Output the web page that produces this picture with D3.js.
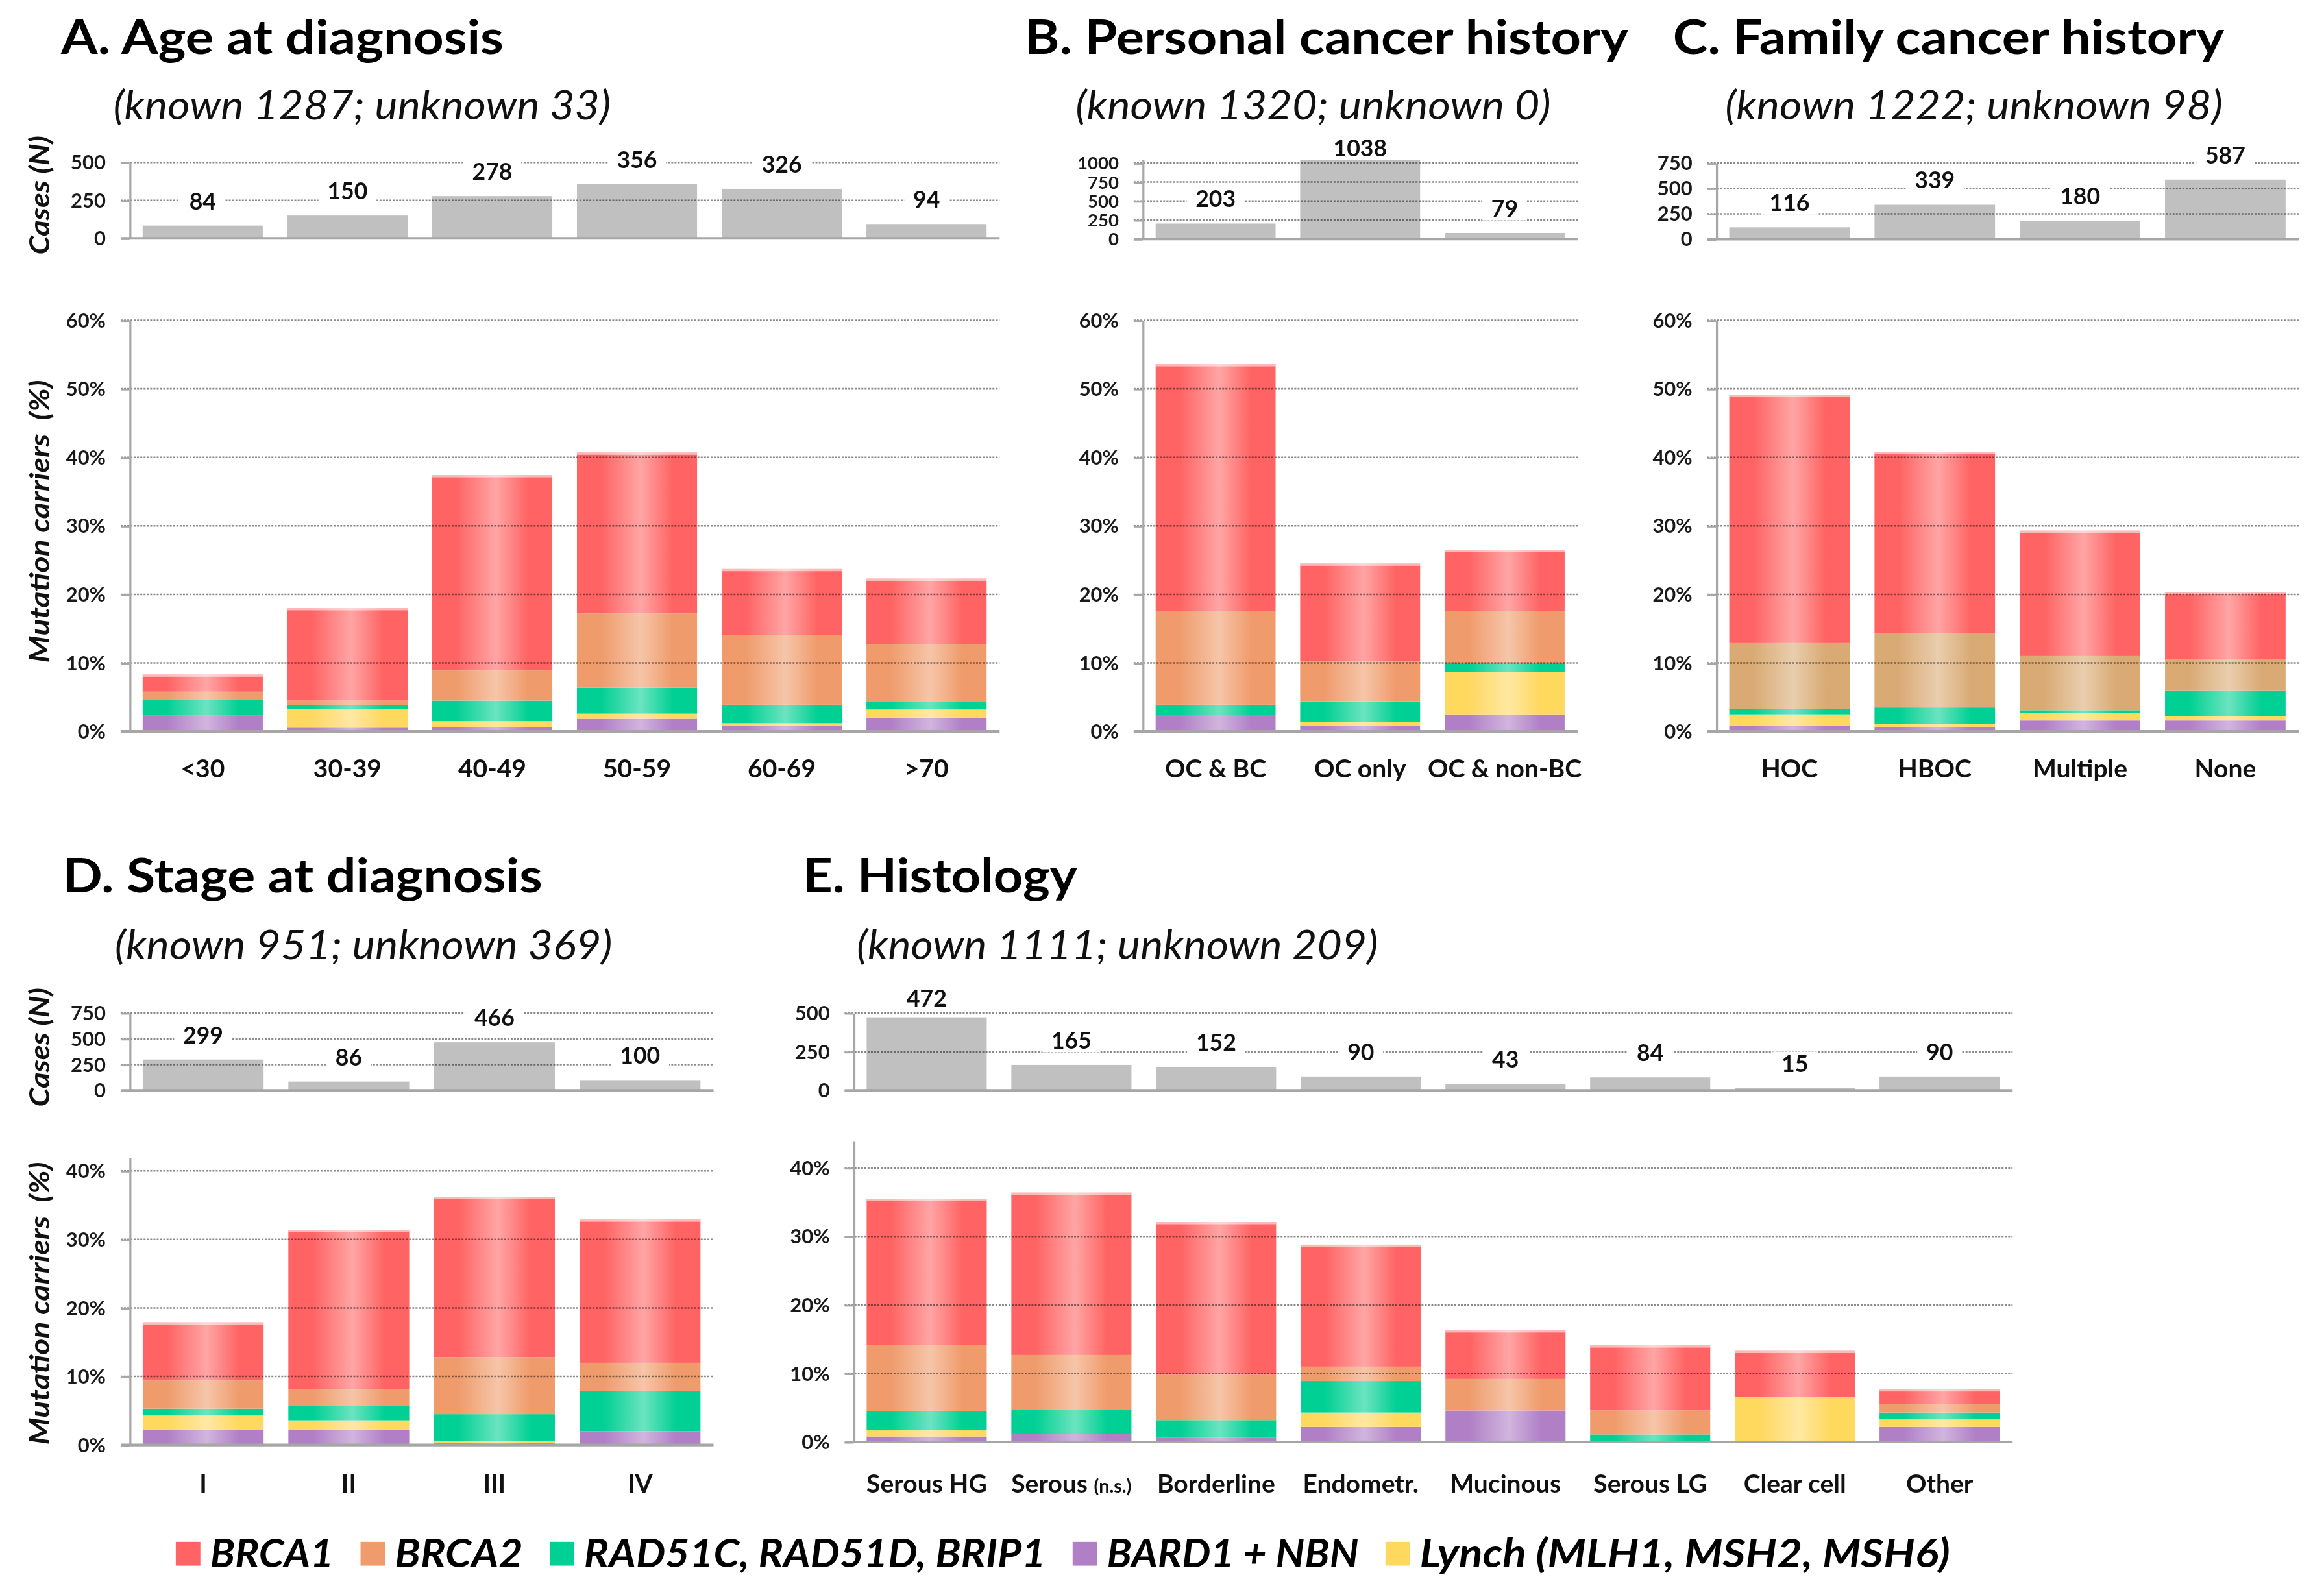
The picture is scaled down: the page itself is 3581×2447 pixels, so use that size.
<!DOCTYPE html>
<html>
<head>
<meta charset="utf-8">
<script src="https://cdn.jsdelivr.net/npm/d3@7"></script>
<style>
  body { margin: 0; background: #fff; }
  text { font-family: Lato, "Open Sans", sans-serif; }
  .grid { mix-blend-mode: multiply; }
  .grid line { stroke: #8a8a8a; stroke-width: 1.1; stroke-dasharray: 1.3 0.9; }
</style>
</head>
<body>
<div id="chart"></div>
<script>
// ---- data ----
const ageGroups = ["<30", "30-39", "40-49", "50-59", "60-69", ">70"];
const ageCases = [84, 150, 278, 356, 326, 94];
const ageBARD = [2.3, 0.55, 0.6, 1.85, 0.9, 2.0];
const ageLynch = [0, 2.75, 0.9, 0.75, 0.3, 1.2];
const ageRAD = [2.3, 0.5, 3.0, 3.8, 2.7, 1.1];
const ageBRCA2 = [1.2, 0.7, 4.4, 10.8, 10.2, 8.4];
const ageBRCA1 = [2.5, 13.5, 28.5, 23.5, 9.6, 9.6];

const personalGroups = ["OC & BC", "OC only", "OC & non-BC"];
const personalCases = [203, 1038, 79];
const personalBARD = [2.4, 0.9, 2.5];
const personalLynch = [0, 0.5, 6.2];
const personalRAD = [1.5, 3.0, 1.3];
const personalBRCA2 = [13.7, 5.8, 7.6];
const personalBRCA1 = [36.0, 14.3, 8.9];

const familyGroups = ["HOC", "HBOC", "Multiple", "None"];
const familyCases = [116, 339, 180, 587];
const familyBARD = [0.8, 0.6, 1.6, 1.6];
const familyLynch = [1.7, 0.5, 1.1, 0.6];
const familyRAD = [0.8, 2.4, 0.4, 3.7];
const familyBRCA2 = [9.6, 10.9, 7.9, 4.7];
const familyBRCA1 = [36.2, 26.4, 18.3, 9.7];

const stageGroups = ["I", "II", "III", "IV"];
const stageCases = [299, 86, 466, 100];
const stageBARD = [2.2, 2.2, 0.3, 2.0];
const stageLynch = [2.1, 1.4, 0.3, 0];
const stageRAD = [1.0, 2.1, 3.9, 5.9];
const stageBRCA2 = [4.1, 2.5, 8.3, 4.1];
const stageBRCA1 = [8.5, 23.2, 23.4, 20.9];

const histoGroups = ["Serous HG", "Serous (n.s.)", "Borderline", "Endometr.", "Mucinous", "Serous LG", "Clear cell", "Other"];
const histoCases = [472, 165, 152, 90, 43, 84, 15, 90];
const histoBARD = [0.8, 1.2, 0.6, 2.2, 4.6, 0, 0, 2.2];
const histoLynch = [0.9, 0, 0, 2.1, 0, 0, 6.6, 1.1];
const histoRAD = [2.8, 3.5, 2.6, 4.6, 0, 1.1, 0, 1.0];
const histoBRCA2 = [9.7, 8.0, 6.6, 2.1, 4.6, 3.5, 0, 1.2];
const histoBRCA1 = [21.3, 23.7, 22.3, 17.8, 7.1, 9.5, 6.7, 2.2];

const genes = ["bard", "lynch", "rad", "brca2", "brca1"];   // bottom -> top
const legendKeys = ["brca1", "brca2", "rad", "bard", "lynch"];
const legendLabels = ["BRCA1", "BRCA2", "RAD51C, RAD51D, BRIP1", "BARD1 + NBN", "Lynch (MLH1, MSH2, MSH6)"];

// ---- styles ----
const colors = { brca1: "#ff6363", brca2: "#ef9b6b", rad: "#00d093", bard: "#b07fc6", lynch: "#ffd85e" };
const tanBRCA2 = "#d9aa74";
const casesGray = "#c0c0c0";
const axisGray = "#a6a6a6";
const pxPerPct = 4.6;

const svg = d3.select("#chart").append("svg")
    .attr("width", 3581)
    .attr("height", 2447)
    .attr("viewBox", "0 0 1560 1066");

const defs = svg.append("defs");
const gradCache = {};
function fillFor(color) {
    if (gradCache[color]) return gradCache[color];
    const id = "g" + color.slice(1);
    const light = d3.interpolateRgb(color, "#ffffff")(0.42);
    const g = defs.append("linearGradient").attr("id", id)
        .attr("x1", 0).attr("x2", 1).attr("y1", 0).attr("y2", 0);
    [[0, color], [0.2, color], [0.53, light], [0.8, color], [1, color]].forEach(([o, c]) =>
        g.append("stop").attr("offset", o).attr("stop-color", c));
    gradCache[color] = `url(#${id})`;
    return gradCache[color];
}

const panels = [
    {
        title: "A. Age at diagnosis", titleX: 41, titleY: 36, titleLen: 297,
        sub: "(known 1287; unknown 33)", subX: 76, subY: 80, subLen: 334,
        cats: ageGroups, cases: ageCases,
        series: { bard: ageBARD, lynch: ageLynch, rad: ageRAD, brca2: ageBRCA2, brca1: ageBRCA1 },
        x0: 87, x1: 671,
        nTicks: [0, 250, 500], nBase: 160, nTopY: 109, nMax: 500, nFont: 13.5,
        pTicks: [0, 10, 20, 30, 40, 50, 60], pBase: 491, pMax: 60,
        catY: 522, yTitles: { cases: 131, mut: 350 }
    },
    {
        title: "B. Personal cancer history", titleX: 688, titleY: 36, titleLen: 405,
        sub: "(known 1320; unknown 0)", subX: 722, subY: 80, subLen: 319,
        cats: personalGroups, cases: personalCases,
        series: { bard: personalBARD, lynch: personalLynch, rad: personalRAD, brca2: personalBRCA2, brca1: personalBRCA1 },
        x0: 767, x1: 1059,
        nTicks: [0, 250, 500, 750, 1000], nBase: 160.4, nTopY: 109.5, nMax: 1050, nFont: 12,
        pTicks: [0, 10, 20, 30, 40, 50, 60], pBase: 491, pMax: 60,
        catY: 522
    },
    {
        title: "C. Family cancer history", titleX: 1123, titleY: 36, titleLen: 370,
        sub: "(known 1222; unknown 98)", subX: 1158, subY: 80, subLen: 334,
        cats: familyGroups, cases: familyCases,
        series: { bard: familyBARD, lynch: familyLynch, rad: familyRAD, brca2: familyBRCA2, brca1: familyBRCA1 },
        brca2Color: tanBRCA2,
        x0: 1152, x1: 1543,
        nTicks: [0, 250, 500, 750], nBase: 160.5, nTopY: 109.5, nMax: 750, nFont: 13.5,
        pTicks: [0, 10, 20, 30, 40, 50, 60], pBase: 491, pMax: 60,
        catY: 522
    },
    {
        title: "D. Stage at diagnosis", titleX: 42, titleY: 599, titleLen: 322,
        sub: "(known 951; unknown 369)", subX: 77, subY: 644, subLen: 334,
        cats: stageGroups, cases: stageCases,
        series: { bard: stageBARD, lynch: stageLynch, rad: stageRAD, brca2: stageBRCA2, brca1: stageBRCA1 },
        x0: 87, x1: 479,
        nTicks: [0, 250, 500, 750], nBase: 732, nTopY: 680, nMax: 750, nFont: 13.5,
        pTicks: [0, 10, 20, 30, 40], pBase: 970, pMax: 42,
        catY: 1002, yTitles: { cases: 703, mut: 875 }
    },
    {
        title: "E. Histology", titleX: 539, titleY: 599, titleLen: 184,
        sub: "(known 1111; unknown 209)", subX: 575, subY: 644, subLen: 350,
        cats: histoGroups, cases: histoCases,
        series: { bard: histoBARD, lynch: histoLynch, rad: histoRAD, brca2: histoBRCA2, brca1: histoBRCA1 },
        x0: 573, x1: 1351,
        nTicks: [0, 250, 500], nBase: 732, nTopY: 680, nMax: 500, nFont: 13.5,
        pTicks: [0, 10, 20, 30, 40], pBase: 968, pMax: 44,
        catY: 1002
    }
];

function styleAxis(g, size) {
    g.attr("font-family", null).attr("font-size", null);
    g.select(".domain").attr("stroke", axisGray).attr("stroke-width", 1.4);
    g.selectAll(".tick line").attr("stroke", axisGray).attr("stroke-width", 1.2);
    g.selectAll(".tick text")
        .attr("font-size", size).attr("font-weight", 700).attr("fill", "#1a1a1a");
}

function gridLines(g, ticks, y, x0, x1) {
    g.append("g").attr("class", "grid")
        .selectAll("line").data(ticks.filter(t => t > 0)).join("line")
        .attr("x1", x0 - 6).attr("x2", x1)
        .attr("y1", d => y(d)).attr("y2", d => y(d));
}

function drawPanel(p) {
    const g = svg.append("g");

    g.append("text").text(p.title)
        .attr("x", p.titleX).attr("y", p.titleY)
        .attr("font-size", 32).attr("font-weight", 700).attr("fill", "#000")
        .attr("textLength", p.titleLen).attr("lengthAdjust", "spacingAndGlyphs");
    g.append("text").text(p.sub)
        .attr("x", p.subX).attr("y", p.subY)
        .attr("font-size", 27).attr("font-style", "italic").attr("fill", "#111")
        .attr("textLength", p.subLen).attr("lengthAdjust", "spacingAndGlyphs");

    const x = d3.scaleBand().domain(p.cats).range([p.x0, p.x1])
        .paddingInner(0.17).paddingOuter(0.09);

    // ---- cases (N) ----
    const topVal = p.nTicks[p.nTicks.length - 1];
    const nPx = (p.nBase - p.nTopY) / topVal;
    const yN = d3.scaleLinear().domain([0, p.nMax]).range([p.nBase, p.nBase - nPx * p.nMax]);

    g.append("g").selectAll("rect").data(p.cases).join("rect")
        .attr("x", (d, i) => x(p.cats[i]))
        .attr("width", x.bandwidth())
        .attr("y", d => yN(d))
        .attr("height", d => yN(0) - yN(d))
        .attr("fill", casesGray);

    gridLines(g, p.nTicks, yN, p.x0, p.x1);

    g.append("g").attr("transform", `translate(${p.x0},0)`)
        .call(d3.axisLeft(yN).tickValues(p.nTicks).tickSize(6).tickSizeOuter(0).tickPadding(10)
            .tickFormat(d3.format("d")))
        .call(styleAxis, p.nFont);
    g.append("line").attr("x1", p.x0 - 6).attr("x2", p.x1)
        .attr("y1", yN(0)).attr("y2", yN(0))
        .attr("stroke", axisGray).attr("stroke-width", 1.8);

    const minLabelY = yN(topVal) - 10;
    const labels = g.append("g").selectAll("g").data(p.cases).join("g")
        .attr("transform", (d, i) =>
            `translate(${x(p.cats[i]) + x.bandwidth() / 2},${Math.max(yN(d) - 16.5, minLabelY)})`);
    labels.each(function (d) {
        const lg = d3.select(this);
        const bg = lg.append("rect").attr("fill", "#fff");
        const t = lg.append("text").text(d)
            .attr("text-anchor", "middle").attr("dy", "0.36em")
            .attr("font-size", 15.5).attr("font-weight", 700).attr("fill", "#111");
        const w = t.node().getComputedTextLength();
        bg.attr("x", -w / 2 - 6).attr("width", w + 12).attr("y", -8).attr("height", 16);
    });

    // ---- mutation carriers (%) ----
    const yP = d3.scaleLinear().domain([0, p.pMax]).range([p.pBase, p.pBase - pxPerPct * p.pMax]);
    const rows = p.cats.map((c, i) => {
        const r = { cat: c };
        genes.forEach(k => r[k] = p.series[k][i]);
        return r;
    });
    const stacked = d3.stack().keys(genes)(rows);
    const colorOf = k => (k === "brca2" && p.brca2Color) ? p.brca2Color : colors[k];

    g.append("g").selectAll("g").data(stacked).join("g")
        .attr("fill", s => fillFor(colorOf(s.key)))
        .selectAll("rect").data(s => s.filter(d => d[1] - d[0] > 0)).join("rect")
        .attr("x", d => x(d.data.cat))
        .attr("width", x.bandwidth())
        .attr("y", d => yP(d[1]))
        .attr("height", d => yP(d[0]) - yP(d[1]));

    // pale top edge on each stack
    g.append("g").selectAll("rect").data(rows).join("rect")
        .attr("x", d => x(d.cat)).attr("width", x.bandwidth())
        .attr("y", d => yP(d3.sum(genes, k => d[k])))
        .attr("height", 1.5).attr("fill", "#fff").attr("opacity", 0.55);

    gridLines(g, p.pTicks, yP, p.x0, p.x1);

    g.append("g").attr("transform", `translate(${p.x0},0)`)
        .call(d3.axisLeft(yP).tickValues(p.pTicks).tickSize(6).tickSizeOuter(0).tickPadding(10)
            .tickFormat(d => d + "%"))
        .call(styleAxis, 13.5);
    g.append("line").attr("x1", p.x0 - 6).attr("x2", p.x1)
        .attr("y1", yP(0)).attr("y2", yP(0))
        .attr("stroke", axisGray).attr("stroke-width", 1.8);

    // category labels
    g.append("g").selectAll("text").data(p.cats).join("text")
        .attr("x", d => x(d) + x.bandwidth() / 2)
        .attr("y", p.catY)
        .attr("text-anchor", "middle")
        .attr("font-size", 17).attr("font-weight", 700).attr("fill", "#111")
        .each(function (d) {
            const t = d3.select(this);
            const m = d.match(/^(.*?)(\(n\.s\.\))$/);
            if (m) {
                t.append("tspan").text(m[1]);
                t.append("tspan").text(m[2]).attr("font-size", 12.5);
            } else {
                t.text(d);
            }
        });

    if (p.yTitles) {
        g.append("text").text("Cases (N)")
            .attr("transform", `translate(33,${p.yTitles.cases}) rotate(-90)`)
            .attr("text-anchor", "middle")
            .attr("font-size", 18).attr("font-weight", 700).attr("font-style", "italic")
            .attr("fill", "#111")
            .attr("textLength", 80).attr("lengthAdjust", "spacingAndGlyphs");
        g.append("text").text("Mutation carriers\u00a0\u00a0(%)")
            .attr("transform", `translate(33,${p.yTitles.mut}) rotate(-90)`)
            .attr("text-anchor", "middle")
            .attr("font-size", 18).attr("font-weight", 700).attr("font-style", "italic")
            .attr("fill", "#111")
            .attr("textLength", 190).attr("lengthAdjust", "spacingAndGlyphs");
    }
}

panels.forEach(drawPanel);

// ---- legend ----
const legendWidths = [83, 86, 310, 169, 356];
const legend = svg.append("g");
let lx = 118;
legendKeys.forEach((k, i) => {
    legend.append("rect")
        .attr("x", lx).attr("y", 1035)
        .attr("width", 16.5).attr("height", 16)
        .attr("fill", colors[k]);
    legend.append("text").text(legendLabels[i])
        .attr("x", lx + 23).attr("y", 1052)
        .attr("font-size", 27).attr("font-weight", 700).attr("font-style", "italic")
        .attr("fill", "#000")
        .attr("textLength", legendWidths[i]).attr("lengthAdjust", "spacingAndGlyphs");
    lx += 23 + legendWidths[i] + 18;
});
</script>
</body>
</html>
